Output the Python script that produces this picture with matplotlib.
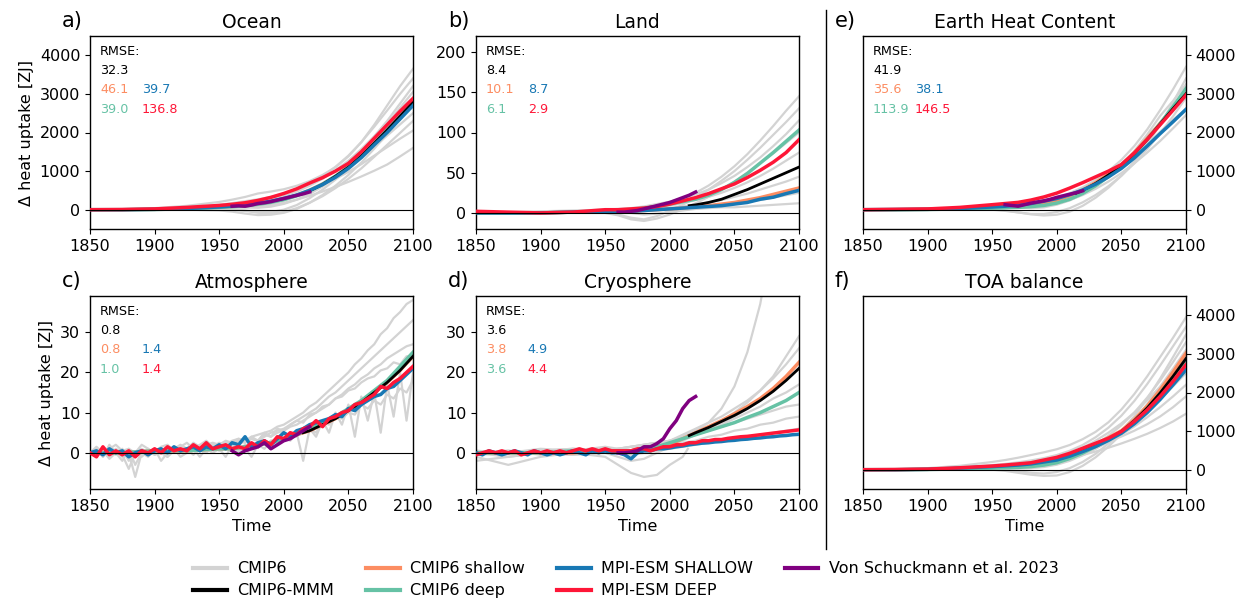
import matplotlib
matplotlib.use("Agg")
import matplotlib.pyplot as plt
from matplotlib.lines import Line2D

plt.rcParams['font.family'] = ['DejaVu Sans']
plt.rcParams['font.size'] = 11.5

# colours
c_cmip = '#d3d3d3'
c_mmm = 'black'
c_shallow = '#fc8d62'
c_deep = '#66c2a5'
c_mpi_sh = '#1878b4'
c_mpi_dp = '#fe1637'
c_obs = '#800080'

# time axes
yr_g = [1850, 1875, 1900, 1925, 1950, 1960, 1970, 1980, 1990, 2000, 2010, 2020, 2030, 2040, 2050, 2060, 2070, 2080, 2090, 2100]
yr5 = list(range(1850, 2101, 5))
yr_mmm = [2015, 2020, 2030, 2040, 2050, 2060, 2070, 2080, 2090, 2100]
yr_obs = [1960, 1965, 1970, 1975, 1980, 1985, 1990, 1995, 2000, 2005, 2010, 2015, 2020]

# ---------------- a) Ocean
ocean_cmip = [
    [0, 10, 40, 100, 200, 260, 330, 420, 470, 530, 620, 740, 900, 1100, 1380, 1750, 2200, 2700, 3200, 3650],
    [0, 0, 20, 60, 130, 170, 220, 270, 330, 420, 530, 680, 870, 1110, 1400, 1750, 2150, 2570, 3000, 3400],
    [0, 0, 10, 30, 60, 70, 60, 50, 80, 150, 260, 410, 600, 850, 1150, 1500, 1900, 2300, 2750, 3200],
    [0, -10, 0, 20, 30, 20, -20, -60, -60, 0, 120, 300, 520, 780, 1080, 1430, 1820, 2220, 2640, 3050],
    [0, 0, 10, 40, 100, 130, 160, 210, 270, 360, 470, 620, 800, 1020, 1270, 1570, 1900, 2240, 2580, 2900],
    [0, -10, -10, 0, -20, -50, -100, -140, -130, -80, 20, 180, 380, 620, 900, 1220, 1580, 1960, 2350, 2750],
    [0, 0, 20, 50, 90, 110, 140, 180, 230, 300, 400, 530, 690, 880, 1100, 1350, 1630, 1920, 2210, 2500],
    [0, 0, 0, 10, 10, 0, -30, -80, -100, -60, 40, 180, 350, 560, 800, 1070, 1370, 1680, 1990, 2300],
    [0, 0, 10, 30, 60, 80, 110, 150, 200, 280, 380, 500, 640, 800, 980, 1180, 1400, 1620, 1840, 2050],
    [0, 0, 10, 20, 40, 50, 60, 80, 120, 180, 260, 360, 470, 590, 720, 860, 1010, 1170, 1380, 1600],
]
ocean_shallow = [0, 0, 10, 30, 65, 85, 110, 150, 200, 270, 370, 500, 660, 860, 1090, 1380, 1700, 2050, 2410, 2780]
ocean_deep = [0, 0, 5, 25, 60, 80, 100, 140, 190, 260, 360, 490, 660, 870, 1110, 1400, 1730, 2080, 2450, 2820]
ocean_mmm = [430, 490, 655, 865, 1100, 1390, 1720, 2060, 2420, 2790]
ocean_mpi_sh = [0, 0, 10, 30, 70, 95, 130, 170, 220, 290, 380, 500, 650, 840, 1070, 1350, 1680, 2000, 2350, 2700]
ocean_mpi_dp = [0, 5, 20, 60, 110, 140, 180, 240, 320, 420, 540, 690, 830, 1000, 1200, 1500, 1850, 2200, 2550, 2880]
ocean_obs = [90, 100, 90, 120, 160, 180, 210, 250, 290, 330, 370, 410, 460]
ocean_rmse = ['32.3', '46.1', '39.7', '39.0', '136.8']

# ---------------- b) Land
land_cmip = [
    [0, 0, 1, 2, 3, 3, 4, 6, 9, 13, 18, 25, 34, 45, 58, 73, 90, 108, 127, 145],
    [1, -1, 0, 2, 1, -2, -6, -8, -4, 3, 10, 19, 29, 40, 52, 66, 81, 97, 113, 130],
    [0, 1, 2, 3, 4, 5, 6, 8, 11, 14, 18, 23, 29, 37, 46, 57, 69, 83, 98, 115],
    [0, -1, 0, 1, 0, -3, -8, -10, -7, -2, 5, 12, 20, 29, 39, 50, 62, 74, 87, 100],
    [0, 1, 1, 2, 3, 4, 4, 5, 7, 9, 12, 16, 20, 25, 31, 38, 46, 55, 65, 75],
    [0, 0, 1, 1, 2, 2, 3, 4, 5, 6, 8, 10, 13, 16, 20, 24, 29, 34, 39, 45],
    [0, 0, 0, 1, 1, 1, 0, -2, -1, 1, 3, 5, 7, 9, 11, 14, 16, 19, 22, 25],
    [1, 0, 1, 1, 2, 2, 3, 3, 4, 4, 5, 5, 6, 7, 7, 8, 9, 10, 11, 12],
]
land_shallow = [0, 0, 0, 1, 1, 2, 2, 3, 4, 5, 6, 8, 9, 11, 13, 16, 19, 23, 27, 31]
land_deep = [0, 0, 0, 1, 2, 3, 4, 6, 8, 11, 14, 17, 22, 29, 38, 49, 62, 75, 89, 103]
land_mmm = [9, 10, 13, 17, 23, 29, 36, 43, 50, 57]
land_mpi_sh = [0, 0, 0, 1, 2, 2, 2, 3, 4, 5, 6, 7, 8, 9, 11, 13, 17, 19.5, 24, 28]
land_mpi_dp = [2, 1, 0, 1, 4, 4, 5, 6, 8, 11, 15, 19, 24, 30, 36, 44, 53, 63, 75, 91]
land_obs = [1, 1, 2, 3, 5, 7, 9, 11, 13, 16, 19, 22, 26]
land_rmse = ['8.4', '10.1', '8.7', '6.1', '2.9']

# ---------------- c) Atmosphere
atm_cmip = [
    [0, 1, -1, 0.5, -0.5, 1, -2, 0, 1, 0, 1, 0.5, 1.5, 1, 2, 1, 2.5, 1.5, 2, 2.5, 2, 3, 2.5, 3.5, 3, 4, 4.5, 5, 5.5, 6.5, 7, 8, 9, 10, 11.5, 12.5, 14, 15.5, 17, 18.5, 20, 22, 23.5, 25.5, 27, 29.5, 31, 33.5, 35, 37, 38],
    [0, -0.5, 1, 0, 0.5, -1, 0, -6, 0, 1, -0.5, 0.5, -1, 1, 0, 1, 0.5, 1.5, 1, 2, 1.5, 2, 2.5, 2, 3, 3.5, 3, 4, 5, 5.5, 6, 7, 8, 9, 10, 11, 12.5, 14, 15, 16.5, 18, 19.5, 21, 22.5, 24, 25.5, 27, 28.5, 30, 31.5, 33],
    [0, 1, -1, 2, 0, -2, 1, -3, 0, -1, 1, -2, 0, 1, -1, 0, 1, -1, 1, 0, 1, -1, 2, 0, 1, -1, 2, 1, 3, 2, 4, 3, 5, -2, 6, 4, 8, 5, 10, 7, 12, 4, 14, 8, 15, 5, 17, 9, 20, 8, 20],
    [0, 0.5, 0, -0.5, 1, 0, 0.5, -1, 0.5, 0, 1, 0.5, 0, 1.5, 1, 0.5, 2, 1, 1.5, 2, 1, 2.5, 2, 3, 2.5, 3.5, 3, 4.5, 4, 5, 5.5, 6.5, 7, 8, 9, 10, 11, 12, 13.5, 14.5, 16, 17, 18.5, 19.5, 21, 22, 23.5, 24.5, 25.5, 26.5, 27],
    [0, -1, 0.5, -1.5, 0, -0.5, -4, 0, -1, 0.5, -0.5, 0, -1, 0.5, 0, 1, -0.5, 1, 0, 1.5, 0.5, 1, 2, 0.5, 2, 1, 2.5, 2, 3, 3.5, 3, 4.5, 4, 5.5, 6, 5, 7.5, 7, 9, 8.5, 10, 9.5, 12, 11, 13, 12, 14.5, 13.5, 16, 15, 18],
    [0, 1.5, 0, 1, 2, 0.5, 1, 0, 2, 1, 0, 1.5, 2, 0.5, 1.5, 2.5, 1, 2, 3, 1.5, 2.5, 2, 3, 3.5, 2.5, 4, 3, 5, 4, 6, 5.5, 7, 8, 7.5, 9.5, 10, 11.5, 12, 13.5, 14, 15.5, 16, 17.5, 18.5, 19, 20.5, 21, 22.5, 22, 24, 24],
]
atm_shallow = [0, 0, 0.5, 0.5, 1, 1, 1.5, 2, 2.5, 3.5, 4.5, 5.5, 7, 8.5, 10.5, 12.5, 15, 17.5, 20.5, 24]
atm_deep = [0, 0, 0.5, 0.5, 1, 1, 1.5, 2, 2.5, 3.5, 4.5, 6, 7.5, 9, 11, 13, 15.5, 18, 21.5, 25]
atm_mmm = [5, 5.5, 7, 8.5, 10.5, 12.5, 15, 17.5, 20.5, 24]
atm_mpi_sh = [0, 0.5, -0.5, 1, 0, 0.5, -1, 0, 0.5, -0.5, 0.5, 1, 0, 1.5, 0.5, 1, 1.5, 0.5, 1.5, 1, 2, 1, 2.5, 2, 4, 1.5, 2.5, 3, 2, 3.5, 5, 4, 5.5, 6, 7, 7.5, 8, 8.5, 9.5, 9, 11, 10.5, 12, 13, 14, 14.5, 16, 16.5, 18, 19.5, 21]
atm_mpi_dp = [0, -1, 1.5, -0.5, 0.5, -0.5, 0.5, -1, 0.5, 0, 1, 0, 1.5, 0.5, 1, 0.5, 2, 1, 2.5, 1, 1.5, 2, 1, 1.5, 1, 2.5, 1.5, 3, 2, 4, 3.5, 5, 4.5, 6, 6.5, 8, 6.5, 8.5, 9, 10, 10.5, 12, 12.5, 13.5, 14.5, 16.5, 16, 17.5, 18.5, 20, 21.5]
atm_obs = [0.5, -0.5, 0.5, 1, 1.5, 2.5, 1, 2, 3, 3.5, 4.5, 5.5, 6.5]
atm_rmse = ['0.8', '0.8', '1.4', '1.0', '1.4']

# ---------------- d) Cryosphere
cryo_cmip = [
    [0, 0.5, 0, 1, 0.5, 1, 1.5, 2, 2.5, 3, 4, 5.5, 7.5, 11, 16.5, 25, 37, 55, 75, 100],
    [-0.5, 0, 0.5, 1, 0.5, 1, 1.5, 2, 2.5, 3, 4, 5, 6.5, 8, 10, 12.5, 15.5, 19, 24, 29],
    [0.5, 0, 1, 0.5, 1.5, 1, 0.5, 1, 2, 3, 4.5, 6, 7.5, 9, 11, 13, 15.5, 18.5, 22, 26],
    [0, -1, 0, -0.5, 0, -1, -2, -1.5, 0, 1.5, 3, 4.5, 6, 7.5, 9, 11, 13, 15.5, 18, 21],
    [0, 0.5, -0.5, 0, 1, 0.5, 0, 0.5, 1.5, 2.5, 3.5, 4.5, 5.5, 7, 8.5, 10, 11.5, 13.5, 15, 17],
    [-2, -1, 0, -0.5, 0.5, 1, 1.5, 2, 2.5, 3, 3.5, 4.5, 5.5, 6.5, 7.5, 8.5, 9.5, 10.5, 11.5, 12],
    [0, 0.5, 0, 0.5, 0, 0, 0.5, 1, 1.5, 2, 2.5, 3, 4, 4.5, 5.5, 6, 7, 7.5, 8.5, 9],
    [0.5, 0, 0.5, 1, 0.5, 0, -0.5, 0, 0.5, 1, 1.5, 2, 2.5, 3, 3.5, 4, 4.5, 5, 5.5, 6],
]
yr_cryo_hist = [1850, 1875, 1900, 1925, 1950, 1960, 1970, 1980, 1990, 2000, 2010, 2014]
cryo_cmip_hist = [-1, -3, -1, 0, -1, -3, -5, -6, -5.5, -3, -1, 1]
cryo_shallow = [0, 0, 0, 0, 0.5, 0.5, 0.5, 1, 1.5, 2, 3.5, 5, 6.5, 8, 9.7, 11.5, 13.5, 16, 19, 22.5]
cryo_deep = [0, 0, 0, 0.5, 0.5, 0.5, 0.5, 1, 1.5, 2.5, 3.5, 4.5, 5.5, 6.5, 7.5, 8.8, 10, 11.5, 13, 15]
cryo_mmm = [4.3, 5, 6.3, 7.8, 9.3, 11, 13, 15.3, 18, 21]
cryo_mpi_sh = [0, -0.5, 0.5, 0, -0.5, 0, 0.5, 0, -0.5, 0.5, 0, -0.5, 0, -0.5, 0, 0.5, 0, -0.5, 0.5, 0, 0.5, 0, 0, -0.5, -1.5, 0, 0.5, 0.5, 1, 1, 1.2, 1.5, 1.7, 2, 2.2, 2.4, 2.5, 2.7, 2.8, 3, 3.1, 3.3, 3.4, 3.6, 3.7, 3.9, 4, 4.2, 4.3, 4.5, 4.6]
cryo_mpi_dp = [-0.5, 0, 0.5, 0, 0.5, 0, 0.5, -0.5, 0, 0.5, 0, 0.5, 0, 0.5, 0, 0.5, 1, 0.5, 1, 0.5, 1, 0.5, 0.5, 0.5, 0.5, 1, 1, 0.5, 1, 1.5, 1.5, 2, 2, 2.5, 2.5, 3, 3, 3.3, 3.3, 3.6, 3.8, 4, 4.1, 4.3, 4.5, 4.7, 4.9, 5.1, 5.3, 5.5, 5.7]
cryo_obs = [0, 0, 0.2, 0.5, 1.5, 1.5, 2.3, 3.5, 6, 8, 11, 13, 14]
cryo_rmse = ['3.6', '3.8', '4.9', '3.6', '4.4']

# ---------------- e) Earth Heat Content
ehc_cmip = [
    [0, 0, 20, 50, 100, 120, 150, 190, 240, 320, 430, 580, 770, 1000, 1290, 1650, 2080, 2580, 3120, 3700],
    [0, 0, 10, 20, 10, -20, -70, -120, -150, -130, -50, 100, 310, 570, 880, 1250, 1700, 2200, 2780, 3400],
    [0, 0, 10, 30, 60, 70, 60, 40, 60, 130, 240, 400, 600, 850, 1150, 1520, 1950, 2430, 2820, 3250],
    [0, 0, 0, 10, 0, -30, -70, -110, -110, -60, 40, 190, 380, 610, 880, 1200, 1570, 1980, 2420, 2900],
    [0, 0, 10, 30, 60, 80, 100, 130, 170, 240, 340, 480, 650, 860, 1100, 1380, 1700, 2020, 2330, 2600],
    [0, 0, 10, 20, 40, 50, 60, 70, 100, 160, 250, 380, 540, 730, 950, 1200, 1480, 1780, 2110, 2450],
]
ehc_shallow = [0, 0, 10, 25, 55, 70, 90, 120, 170, 250, 360, 510, 700, 920, 1160, 1480, 1850, 2240, 2630, 3000]
ehc_deep = [0, 0, 5, 20, 40, 50, 60, 80, 110, 170, 270, 420, 620, 860, 1120, 1440, 1820, 2230, 2670, 3140]
ehc_mmm = [430, 500, 680, 900, 1140, 1450, 1820, 2220, 2620, 3000]
ehc_mpi_sh = [0, 5, 10, 30, 70, 90, 120, 160, 220, 290, 390, 510, 660, 850, 1070, 1340, 1650, 1970, 2280, 2600]
ehc_mpi_dp = [0, 10, 20, 60, 130, 160, 190, 250, 330, 430, 560, 700, 850, 1000, 1170, 1470, 1820, 2200, 2580, 2970]
ehc_obs = [130, 110, 90, 130, 170, 200, 230, 270, 320, 360, 400, 440, 490]
ehc_rmse = ['41.9', '35.6', '38.1', '113.9', '146.5']

# ---------------- f) TOA balance
toa_cmip = [
    [0, 10, 40, 100, 200, 250, 310, 380, 450, 530, 640, 790, 980, 1230, 1560, 1960, 2420, 2920, 3420, 3950],
    [0, 0, 20, 60, 120, 150, 190, 240, 300, 380, 490, 640, 840, 1090, 1400, 1780, 2220, 2700, 3200, 3700],
    [0, 0, 10, 20, 20, 0, -40, -80, -100, -60, 40, 200, 410, 680, 1000, 1390, 1840, 2360, 2920, 3500],
    [0, 0, 10, 30, 60, 70, 80, 100, 140, 210, 310, 460, 650, 880, 1150, 1480, 1870, 2310, 2790, 3300],
    [0, -10, 0, 10, 0, -30, -80, -130, -160, -150, -60, 100, 320, 600, 920, 1290, 1700, 2150, 2620, 3100],
    [0, 0, 10, 40, 90, 110, 140, 180, 230, 310, 420, 570, 750, 960, 1200, 1480, 1800, 2150, 2520, 2900],
    [0, 0, 10, 20, 40, 40, 30, 40, 70, 130, 230, 370, 540, 740, 970, 1230, 1520, 1830, 2160, 2500],
    [0, 0, 10, 30, 50, 60, 70, 90, 120, 180, 270, 400, 550, 720, 910, 1120, 1360, 1620, 1900, 2200],
    [0, 0, 20, 50, 100, 130, 160, 200, 250, 320, 400, 500, 610, 730, 860, 1010, 1180, 1380, 1620, 1900],
    [0, 0, 10, 30, 60, 80, 100, 130, 170, 230, 300, 380, 470, 570, 680, 800, 930, 1080, 1250, 1450],
]
toa_shallow = [0, 0, 10, 30, 60, 80, 100, 130, 180, 260, 370, 510, 660, 830, 1010, 1300, 1650, 2070, 2530, 3020]
toa_deep = [0, 0, 5, 20, 40, 50, 60, 80, 120, 180, 290, 430, 600, 780, 980, 1250, 1580, 1970, 2380, 2820]
toa_mmm = [420, 500, 640, 800, 990, 1270, 1600, 1990, 2420, 2880]
toa_mpi_sh = [0, 0, 10, 40, 80, 100, 120, 150, 200, 250, 350, 470, 600, 760, 945, 1190, 1480, 1820, 2200, 2590]
toa_mpi_dp = [0, 5, 15, 50, 95, 120, 150, 180, 250, 320, 425, 555, 685, 815, 990, 1250, 1550, 1900, 2290, 2720]


fig = plt.figure(figsize=(12.47, 6.01), dpi=100)

W, H = 323 / 1247, 193 / 601
xl = [90 / 1247, 476 / 1247, 863 / 1247]
yb_top = 1 - 229 / 601
yb_bot = 1 - 489 / 601

ax_a = fig.add_axes([xl[0], yb_top, W, H])
ax_b = fig.add_axes([xl[1], yb_top, W, H])
ax_e = fig.add_axes([xl[2], yb_top, W, H])
ax_c = fig.add_axes([xl[0], yb_bot, W, H])
ax_d = fig.add_axes([xl[1], yb_bot, W, H])
ax_f = fig.add_axes([xl[2], yb_bot, W, H])


def draw(ax, cmip, shallow, deep, mmm, mpi_sh, mpi_dp, obs, yr_cmip, yr_mpi):
    for m in cmip:
        ax.plot(yr_cmip, m, color=c_cmip, lw=1.6, zorder=1)
    ax.plot(yr_g, shallow, color=c_shallow, lw=2.5, zorder=2)
    ax.plot(yr_g, deep, color=c_deep, lw=2.5, zorder=2)
    ax.plot(yr_mmm, mmm, color=c_mmm, lw=2, zorder=3)
    ax.plot(yr_mpi, mpi_sh, color=c_mpi_sh, lw=2.5, zorder=4)
    ax.plot(yr_mpi, mpi_dp, color=c_mpi_dp, lw=2.5, zorder=5)
    if obs is not None:
        ax.plot(yr_obs, obs, color=c_obs, lw=2.5, zorder=6)
    ax.axhline(0, color='k', lw=0.8, zorder=7)
    ax.set_xlim(1850, 2100)
    ax.set_xticks([1850, 1900, 1950, 2000, 2050, 2100])
    for s in ax.spines.values():
        s.set_linewidth(1.0)


def rmse(ax, vals):
    kw = dict(transform=ax.transAxes, fontsize=9.2, va='baseline', ha='left')
    ax.text(0.031, 0.902, 'RMSE:', color='k', **kw)
    ax.text(0.031, 0.802, vals[0], color='k', **kw)
    ax.text(0.031, 0.703, vals[1], color=c_shallow, **kw)
    ax.text(0.16, 0.703, vals[2], color=c_mpi_sh, **kw)
    ax.text(0.031, 0.603, vals[3], color=c_deep, **kw)
    ax.text(0.16, 0.603, vals[4], color=c_mpi_dp, **kw)


def label(ax, letter, title):
    ax.set_title(title, fontsize=13.5)
    ax.text(-0.087, 1.047, letter, transform=ax.transAxes, fontsize=15, va='baseline', ha='left')


draw(ax_a, ocean_cmip, ocean_shallow, ocean_deep, ocean_mmm, ocean_mpi_sh, ocean_mpi_dp, ocean_obs, yr_g, yr_g)
ax_a.set_ylim(-500, 4500)
ax_a.set_yticks([0, 1000, 2000, 3000, 4000])
ax_a.set_ylabel('Δ heat uptake [ZJ]')
rmse(ax_a, ocean_rmse)
label(ax_a, 'a)', 'Ocean')

draw(ax_b, land_cmip, land_shallow, land_deep, land_mmm, land_mpi_sh, land_mpi_dp, land_obs, yr_g, yr_g)
ax_b.set_ylim(-20, 220)
ax_b.set_yticks([0, 50, 100, 150, 200])
rmse(ax_b, land_rmse)
label(ax_b, 'b)', 'Land')

draw(ax_c, atm_cmip, atm_shallow, atm_deep, atm_mmm, atm_mpi_sh, atm_mpi_dp, atm_obs, yr5, yr5)
ax_c.set_ylim(-9, 39)
ax_c.set_yticks([0, 10, 20, 30])
ax_c.set_ylabel('Δ heat uptake [ZJ]')
ax_c.set_xlabel('Time')
rmse(ax_c, atm_rmse)
label(ax_c, 'c)', 'Atmosphere')

draw(ax_d, cryo_cmip, cryo_shallow, cryo_deep, cryo_mmm, cryo_mpi_sh, cryo_mpi_dp, cryo_obs, yr_g, yr5)
ax_d.plot(yr_cryo_hist, cryo_cmip_hist, color=c_cmip, lw=1.6, zorder=1)
ax_d.set_ylim(-9, 39)
ax_d.set_yticks([0, 10, 20, 30])
ax_d.set_xlabel('Time')
rmse(ax_d, cryo_rmse)
label(ax_d, 'd)', 'Cryosphere')

draw(ax_e, ehc_cmip, ehc_shallow, ehc_deep, ehc_mmm, ehc_mpi_sh, ehc_mpi_dp, ehc_obs, yr_g, yr_g)
ax_e.set_ylim(-500, 4500)
ax_e.set_yticks([0, 1000, 2000, 3000, 4000])
ax_e.yaxis.tick_right()
rmse(ax_e, ehc_rmse)
label(ax_e, 'e)', 'Earth Heat Content')

draw(ax_f, toa_cmip, toa_shallow, toa_deep, toa_mmm, toa_mpi_sh, toa_mpi_dp, None, yr_g, yr_g)
ax_f.set_ylim(-500, 4500)
ax_f.set_yticks([0, 1000, 2000, 3000, 4000])
ax_f.yaxis.tick_right()
ax_f.set_xlabel('Time')
label(ax_f, 'f)', 'TOA balance')

# separator between component panels and totals
fig.add_artist(Line2D([0.6625, 0.6625], [0.087, 0.983], color='k', lw=1.0))

handles = [
    Line2D([], [], color=c_cmip, lw=3),
    Line2D([], [], color=c_mmm, lw=3),
    Line2D([], [], color=c_shallow, lw=3),
    Line2D([], [], color=c_deep, lw=3),
    Line2D([], [], color=c_mpi_sh, lw=3),
    Line2D([], [], color=c_mpi_dp, lw=3),
    Line2D([], [], color=c_obs, lw=3),
]
labels = ['CMIP6', 'CMIP6-MMM', 'CMIP6 shallow', 'CMIP6 deep',
          'MPI-ESM SHALLOW', 'MPI-ESM DEEP', 'Von Schuckmann et al. 2023']
fig.legend(handles, labels, ncol=4, loc='upper center', bbox_to_anchor=(0.502, 0.09),
           frameon=False, handlelength=2.1, handletextpad=0.65, columnspacing=2.0,
           labelspacing=0.45, fontsize=11.5)

fig.savefig('out.png', dpi=100)
